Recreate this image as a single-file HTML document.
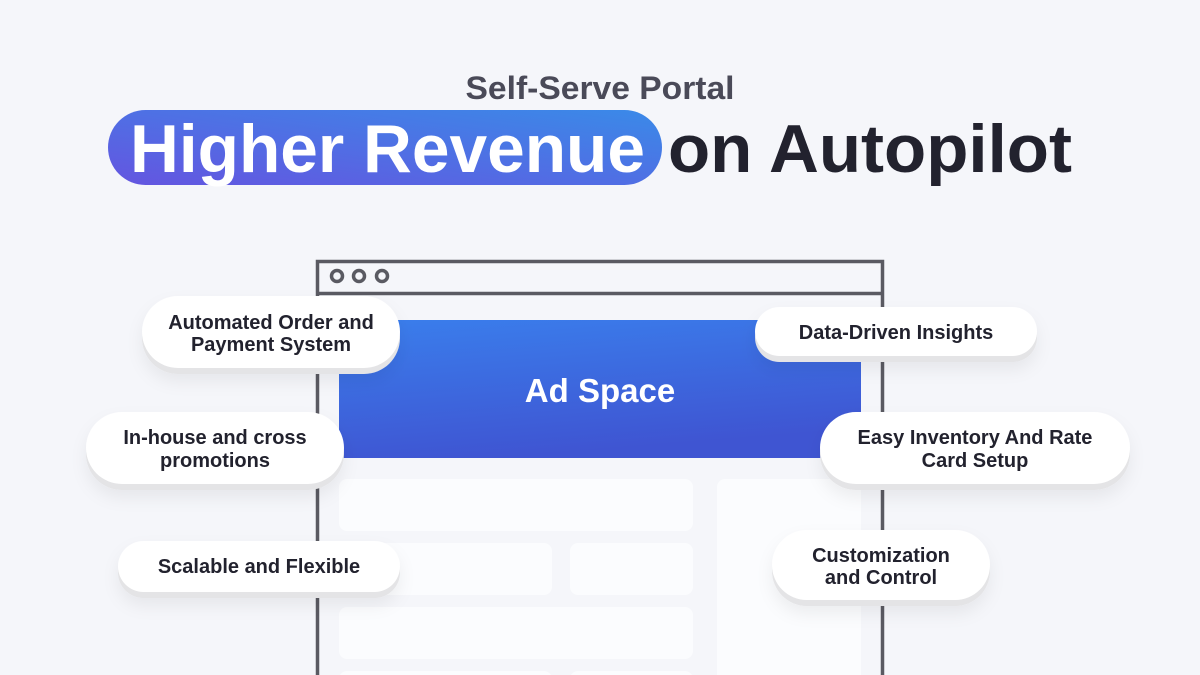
<!DOCTYPE html>
<html><head><meta charset="utf-8"><style>
html,body{margin:0;padding:0;background:#f5f6fa;}
svg{display:block}
text{font-family:"Liberation Sans",sans-serif;font-weight:bold;}
</style></head><body>
<svg width="1200" height="675" viewBox="0 0 1200 675" xmlns="http://www.w3.org/2000/svg">
<defs>
<linearGradient id="hg" x1="0" y1="1" x2="1" y2="0">
<stop offset="0" stop-color="#6455e0"/><stop offset="1" stop-color="#3a8ae8"/>
</linearGradient>
<linearGradient id="ag" x1="0" y1="0" x2="0.3" y2="1">
<stop offset="0" stop-color="#3a7eec"/><stop offset="1" stop-color="#3f55d2"/>
</linearGradient>
<filter id="sh" x="-20%" y="-40%" width="140%" height="200%">
<feDropShadow dx="0" dy="8" stdDeviation="8" flood-color="#000" flood-opacity="0.06"/>
</filter>
</defs>
<rect width="1200" height="675" fill="#f5f6fa"/>
<text x="600" y="99" font-size="32" fill="#4a4a58" text-anchor="middle" textLength="269" lengthAdjust="spacingAndGlyphs">Self-Serve Portal</text>
<rect x="108" y="110" width="554" height="75" rx="37.5" fill="url(#hg)"/>
<text x="130" y="172" font-size="68" fill="#fff" textLength="515" lengthAdjust="spacingAndGlyphs">Higher Revenue</text>
<text x="668" y="172" font-size="68" fill="#22222e" textLength="404" lengthAdjust="spacingAndGlyphs">on Autopilot</text>

<rect x="317.5" y="261.5" width="565" height="440" fill="none" stroke="#5a5a62" stroke-width="3.5"/>
<line x1="317" y1="293.5" x2="883" y2="293.5" stroke="#5a5a62" stroke-width="3.5"/>
<circle cx="337" cy="276" r="5.5" fill="none" stroke="#5a5a62" stroke-width="3.5"/>
<circle cx="359" cy="276" r="5.5" fill="none" stroke="#5a5a62" stroke-width="3.5"/>
<circle cx="382" cy="276" r="5.5" fill="none" stroke="#5a5a62" stroke-width="3.5"/>
<rect x="339" y="320" width="522" height="138" fill="url(#ag)"/>
<text x="600" y="402" font-size="33" fill="#fff" text-anchor="middle">Ad Space</text>
<g fill="#fbfcfe">
<rect x="339" y="479" width="354" height="52" rx="8"/>
<rect x="717" y="479" width="144" height="210" rx="8"/>
<rect x="339" y="543" width="213" height="52" rx="8"/>
<rect x="570" y="543" width="123" height="52" rx="8"/>
<rect x="339" y="607" width="354" height="52" rx="8"/>
<rect x="339" y="671" width="213" height="20" rx="8"/>
<rect x="570" y="671" width="123" height="20" rx="8"/>
</g>

<g filter="url(#sh)">
<rect x="142" y="302" width="258" height="72" rx="36" fill="#e4e4e6"/>
<rect x="142" y="296" width="258" height="72" rx="36" fill="#fff"/>
<rect x="755" y="313" width="282" height="49" rx="24.5" fill="#e4e4e6"/>
<rect x="755" y="307" width="282" height="49" rx="24.5" fill="#fff"/>
<rect x="86" y="418" width="258" height="72" rx="36" fill="#e4e4e6"/>
<rect x="86" y="412" width="258" height="72" rx="36" fill="#fff"/>
<rect x="820" y="418" width="310" height="72" rx="36" fill="#e4e4e6"/>
<rect x="820" y="412" width="310" height="72" rx="36" fill="#fff"/>
<rect x="118" y="547" width="282" height="51" rx="25.5" fill="#e4e4e6"/>
<rect x="118" y="541" width="282" height="51" rx="25.5" fill="#fff"/>
<rect x="772" y="536" width="218" height="70" rx="35" fill="#e4e4e6"/>
<rect x="772" y="530" width="218" height="70" rx="35" fill="#fff"/>
</g>
<g font-size="20" fill="#22222e" text-anchor="middle">
<text x="271" y="329">Automated Order and</text>
<text x="271" y="351">Payment System</text>
<text x="896" y="339">Data-Driven Insights</text>
<text x="215" y="444">In-house and cross</text>
<text x="215" y="467">promotions</text>
<text x="975" y="444">Easy Inventory And Rate</text>
<text x="975" y="467">Card Setup</text>
<text x="259" y="573">Scalable and Flexible</text>
<text x="881" y="562">Customization</text>
<text x="881" y="584">and Control</text>
</g>
</svg>
</body></html>
